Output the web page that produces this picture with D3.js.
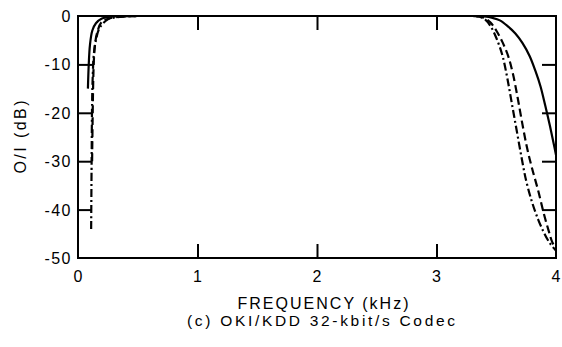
<!DOCTYPE html>
<html>
<head>
<meta charset="utf-8">
<script src="https://cdn.jsdelivr.net/npm/d3@7"></script>
<style>
body { margin: 0; background: #fff; }
svg text { font-family: "Liberation Sans", Arial, sans-serif; fill: #000; }
</style>
</head>
<body>
<div id="chart"></div>
<script>
// frequency response (kHz, dB)
var solidF  = [0.083, 0.09, 0.1, 0.12, 0.15, 0.2, 0.3, 0.5, 1, 2, 3, 3.2, 3.3, 3.4, 3.47, 3.53, 3.6, 3.66, 3.72, 3.78, 3.83, 3.87, 3.91, 3.95, 3.98, 4.0];
var solidDb = [-15, -10, -6, -3, -1.5, -0.5, -0.1, 0, 0, 0, 0, 0, 0, -0.1, -0.4, -0.9, -2.2, -3.6, -5.6, -8.3, -11.5, -14.5, -18.5, -22.8, -26.3, -28.7];

var dashF  = [0.118, 0.122, 0.127, 0.133, 0.142, 0.16, 0.2, 0.3, 0.5, 1, 2, 3, 3.2, 3.33, 3.4, 3.45, 3.5, 3.55, 3.6, 3.64, 3.68, 3.72, 3.76, 3.8, 3.85, 3.9, 3.94, 3.97, 4.0];
var dashDb = [-30, -22, -14, -9, -6, -3.5, -1.2, -0.3, 0, 0, 0, 0, 0, 0, -0.4, -1.3, -3, -5.3, -8.3, -12, -17, -22.5, -27.5, -31.5, -36, -41, -44.5, -46.8, -48];

var dotF  = [0.11, 0.114, 0.118, 0.124, 0.132, 0.15, 0.18, 0.25, 0.35, 0.5, 1, 2, 3, 3.2, 3.33, 3.4, 3.45, 3.5, 3.55, 3.59, 3.63, 3.67, 3.71, 3.75, 3.8, 3.85, 3.9, 3.95, 4.0];
var dotDb = [-44, -30, -18, -12, -8, -5, -2.5, -0.7, -0.2, 0, 0, 0, 0, 0, 0, -0.6, -2, -4.5, -8, -12.5, -18, -23.5, -29, -34, -38.5, -42, -44.8, -47, -48.5];

var xTicks = [0, 1, 2, 3, 4];
var yTicks = [0, -10, -20, -30, -40, -50];

var w = 562, h = 347;
var x0 = 78, x1 = 556, yTop = 16, yBot = 258;

var svg = d3.select("#chart").append("svg")
	.attr("width", w)
	.attr("height", h);

var x = d3.scaleLinear().domain([0, 4]).range([x0, x1]);
var y = d3.scaleLinear().domain([-50, 0]).range([yBot, yTop]);

function zip(fs, ds) {
	return fs.map(function(f, i) { return [f, ds[i]]; });
}

var line = d3.line()
	.x(function(d) { return x(d[0]); })
	.y(function(d) { return y(d[1]); })
	.curve(d3.curveCatmullRom.alpha(0.5));

var series = [
	{ pts: zip(solidF, solidDb), dash: null },
	{ pts: zip(dashF, dashDb), dash: "8,4" },
	{ pts: zip(dotF, dotDb), dash: "8,3,2,3" }
];

svg.append("clipPath").attr("id", "plot")
	.append("rect")
	.attr("x", x0).attr("y", yTop)
	.attr("width", x1 - x0).attr("height", yBot - yTop);

svg.append("g").attr("clip-path", "url(#plot)")
	.selectAll("path.curve")
	.data(series)
	.enter()
	.append("path")
	.attr("class", "curve")
	.attr("d", function(d) { return line(d.pts); })
	.attr("fill", "none")
	.attr("stroke", "#000")
	.attr("stroke-width", 2.2)
	.attr("stroke-dasharray", function(d) { return d.dash; });

// frame
svg.append("rect")
	.attr("x", x0).attr("y", yTop)
	.attr("width", x1 - x0).attr("height", yBot - yTop)
	.attr("fill", "none")
	.attr("stroke", "#000")
	.attr("stroke-width", 2);

// inward ticks on all four sides
var tk = 14;
var inner = xTicks.slice(1, -1);
var innerY = yTicks.slice(1, -1);

svg.append("g").attr("transform", "translate(0," + yBot + ")")
	.call(d3.axisTop(x).tickValues(inner).tickSize(tk).tickFormat(""))
	.call(function(g) { g.select(".domain").remove(); });
svg.append("g").attr("transform", "translate(0," + yTop + ")")
	.call(d3.axisBottom(x).tickValues(inner).tickSize(tk).tickFormat(""))
	.call(function(g) { g.select(".domain").remove(); });
svg.append("g").attr("transform", "translate(" + x0 + ",0)")
	.call(d3.axisRight(y).tickValues(innerY).tickSize(tk).tickFormat(""))
	.call(function(g) { g.select(".domain").remove(); });
svg.append("g").attr("transform", "translate(" + x1 + ",0)")
	.call(d3.axisLeft(y).tickValues(innerY).tickSize(tk).tickFormat(""))
	.call(function(g) { g.select(".domain").remove(); });

svg.selectAll(".tick line").attr("stroke", "#000").attr("stroke-width", 2);

// tick labels
svg.selectAll("text.xl")
	.data(xTicks)
	.enter()
	.append("text")
	.attr("class", "xl")
	.attr("x", function(d) { return x(d); })
	.attr("y", 282)
	.attr("text-anchor", "middle")
	.attr("font-size", 16)
	.text(function(d) { return d; });

svg.selectAll("text.yl")
	.data(yTicks)
	.enter()
	.append("text")
	.attr("class", "yl")
	.attr("x", 72)
	.attr("y", function(d) { return y(d) + 6; })
	.attr("text-anchor", "end")
	.attr("font-size", 16)
	.attr("letter-spacing", 1.5)
	.text(function(d) { return d; });

// axis titles and caption
svg.append("text")
	.attr("transform", "translate(26,137) rotate(-90)")
	.attr("text-anchor", "middle")
	.attr("font-size", 16)
	.attr("textLength", 73)
	.attr("lengthAdjust", "spacing")
	.text("O/I (dB)");

svg.append("text")
	.attr("x", 323)
	.attr("y", 309)
	.attr("text-anchor", "middle")
	.attr("font-size", 16)
	.attr("textLength", 171)
	.attr("lengthAdjust", "spacing")
	.text("FREQUENCY (kHz)");

svg.append("text")
	.attr("x", 321)
	.attr("y", 326)
	.attr("text-anchor", "middle")
	.attr("font-size", 15.5)
	.attr("textLength", 268)
	.attr("lengthAdjust", "spacing")
	.text("(c) OKI/KDD 32-kbit/s Codec");
</script>
</body>
</html>
